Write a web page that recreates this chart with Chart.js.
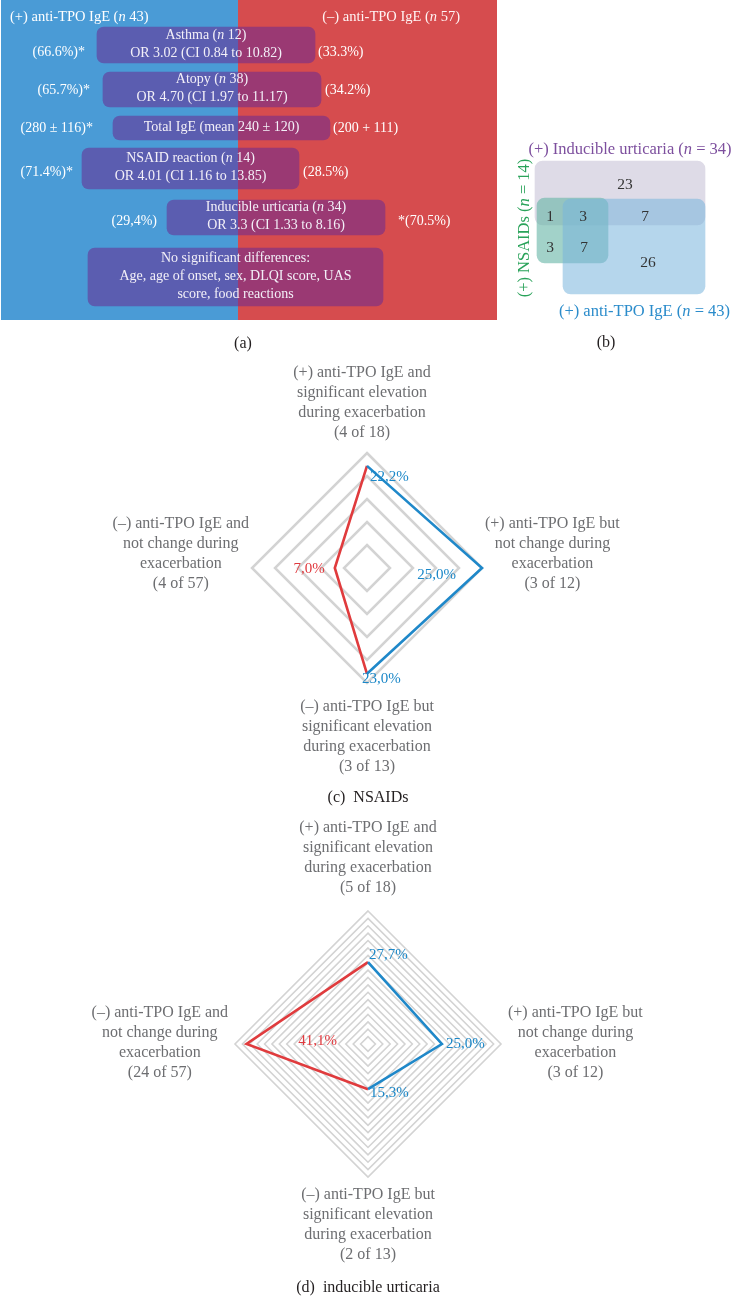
<!DOCTYPE html>
<html><head><meta charset="utf-8">
<script src="https://cdn.jsdelivr.net/npm/chart.js@4.4.0/dist/chart.umd.min.js"></script>
<style>
html,body{margin:0;padding:0;background:#fff;}
body{width:732px;height:1309px;position:relative;overflow:hidden;font-family:'Liberation Serif','DejaVu Serif',serif;}
canvas{position:absolute;}
.cap{position:absolute;font-size:16px;color:#231f20;transform:translate(-50%,-50%);white-space:nowrap;}
</style></head><body>
<canvas id="ca" width="496" height="320" style="left:1px;top:0"></canvas>
<canvas id="cb" width="242" height="190" style="left:490px;top:140px"></canvas>
<canvas id="cc" width="732" height="460" style="left:0;top:350px"></canvas>
<canvas id="cd" width="732" height="494" style="left:0;top:815px"></canvas>
<div class="cap" style="left:243px;top:343px">(a)</div>
<div class="cap" style="left:606px;top:342px">(b)</div>
<div class="cap" style="left:368px;top:797px">(c)&ensp;NSAIDs</div>
<div class="cap" style="left:368px;top:1287px">(d)&ensp;inducible urticaria</div>
<script>
// ---------------- DATA ----------------
// Panel (a)
const groupHeaders = ['(+) anti-TPO IgE (_n_ 43)', '(\u2013) anti-TPO IgE (_n_ 57)'];
const rowTitles = [
  ['Asthma (_n_ 12)', 'OR 3.02 (CI 0.84 to 10.82)'],
  ['Atopy (_n_ 38)', 'OR 4.70 (CI 1.97 to 11.17)'],
  ['Total IgE (mean 240 \u00b1 120)'],
  ['NSAID reaction (_n_ 14)', 'OR 4.01 (CI 1.16 to 13.85)'],
  ['Inducible urticaria (_n_ 34)', 'OR 3.3 (CI 1.33 to 8.16)'],
  ['No significant differences:', 'Age, age of onset, sex, DLQI score, UAS', 'score, food reactions']
];
const positiveGroup = ['(66.6%)*', '(65.7%)*', '(280 \u00b1 116)*', '(71.4%)*', '(29,4%)', ''];
const negativeGroup = ['(33.3%)', '(34.2%)', '(200 + 111)', '(28.5%)', '*(70.5%)', ''];
const boxStart = [19.35, 20.56, 22.58, 16.33, 33.47, 17.54];
const boxEnd   = [63.31, 64.52, 66.33, 60.08, 77.42, 77.02];

// Panel (b)
const vennSets = ['(+) Inducible urticaria (_n_ = 34)', '(+) NSAIDs (_n_ = 14)', '(+) anti-TPO IgE (_n_ = 43)'];
const vennCounts = [23, 1, 3, 7, 3, 7, 26];

// Panels (c) and (d)
const radarAxes = [
  ['(+) anti-TPO IgE and', 'significant elevation', 'during exacerbation'],
  ['(+) anti-TPO IgE but', 'not change during', 'exacerbation'],
  ['(\u2013) anti-TPO IgE but', 'significant elevation', 'during exacerbation'],
  ['(\u2013) anti-TPO IgE and', 'not change during', 'exacerbation']
];
const nsaidCounts = ['(4 of 18)', '(3 of 12)', '(3 of 13)', '(4 of 57)'];
const inducibleCounts = ['(5 of 18)', '(3 of 12)', '(2 of 13)', '(24 of 57)'];
const nsaidValues = [22.2, 25.0, 23.0, 7.0];
const inducibleValues = [27.7, 25.0, 15.3, 41.1];
const positiveAxes = [0, 1, 2];   // axes traced by the (+) anti-TPO IgE line
const negativeAxes = [0, 2, 3];   // axes traced by the (-) anti-TPO IgE line
const nsaidTicks = {max: 25, step: 5};
const inducibleTicks = {max: 45, step: 2.5};

// ---------------- STYLE / LAYOUT ----------------
const FONT = "'Liberation Serif','DejaVu Serif',serif";
const BLUE_BG = '#4a9bd6', RED_BG = '#d64c4e', BOX = 'rgba(106,42,145,0.55)';
const LINE_BLUE = '#1f88c9', LINE_RED = '#e03b3d', GRID = '#d3d3d3', LABEL_GRAY = '#6d6e71';

const LAYOUT_A = {
  divider: 47.78,
  rowCenter: [45, 89.5, 128, 168.5, 217.5, 277],
  rowHeight: [36, 35, 24, 41, 35, 58],
  leftGap: [12, 13, 20, 9, 10, 0],
  rightGap: [3, 4, 3, 4, 13, 0],
  sideDy: [7, 1, 0, 3.5, 3.5, 0],
  headerY: 17, headerLeft: 9, headerRight: 459, lineHeight: 18
};
const LAYOUT_B = {
  boxes: [ // [x0, x1, yCenter, height]
    [45, 215, 53, 64],
    [47, 118, 90.5, 65],
    [73, 215, 106.5, 95]
  ],
  fills: ['rgba(200,195,215,0.6)', 'rgba(100,180,165,0.6)', 'rgba(120,180,220,0.55)'],
  labelColors: ['#7d4f9e', '#2aa35a', '#2b8ccb'],
  countPos: [[135,45],[60,77],[93,77],[155,77],[60,108],[94,108],[158,123]],
  labelPos: [[140,10],[35,88],[154.5,172]]
};

// ---------------- HELPERS ----------------
function richParts(s){ return s.split('_').map((t,i)=>({t, it: i%2===1})); }
function fontFor(size, it){ return (it?'italic ':'') + size + 'px ' + FONT; }
function drawRich(ctx, s, x, y, size, align, color){
  const parts = richParts(s);
  let w = 0;
  parts.forEach(p=>{ ctx.font = fontFor(size,p.it); p.w = ctx.measureText(p.t).width; w += p.w; });
  let sx = align==='center' ? x - w/2 : (align==='right' ? x - w : x);
  ctx.fillStyle = color; ctx.textAlign = 'left'; ctx.textBaseline = 'middle';
  parts.forEach(p=>{ ctx.font = fontFor(size,p.it); ctx.fillText(p.t, sx, y); sx += p.w; });
  return w;
}
const fmtPct = v => v.toFixed(1).replace('.', ',') + '%';

// ---------------- PANEL (a) ----------------
const panelAPlugin = {
  id: 'panelA',
  beforeDatasetsDraw(chart){
    const {ctx, chartArea: a, scales: {x}} = chart;
    const d = x.getPixelForValue(LAYOUT_A.divider);
    ctx.save();
    ctx.fillStyle = BLUE_BG; ctx.fillRect(a.left, a.top, d - a.left, a.bottom - a.top);
    ctx.fillStyle = RED_BG; ctx.fillRect(d, a.top, a.right - d, a.bottom - a.top);
    ctx.restore();
  },
  afterDatasetsDraw(chart){
    const ctx = chart.ctx;
    ctx.save();
    drawRich(ctx, groupHeaders[0], LAYOUT_A.headerLeft, LAYOUT_A.headerY, 14.5, 'left', '#ffffff');
    drawRich(ctx, groupHeaders[1], LAYOUT_A.headerRight, LAYOUT_A.headerY, 14.5, 'right', '#fff4f4');
    rowTitles.forEach((lines, i) => {
      const bar = chart.getDatasetMeta(i).data[0];
      const {x, y, base} = bar.getProps(['x','y','base'], true);
      const l = Math.min(x, base), r = Math.max(x, base);
      const cx = (l + r) / 2, lh = LAYOUT_A.lineHeight;
      const y0 = y - 1 - (lines.length - 1) * lh / 2;
      lines.forEach((t, k) => drawRich(ctx, t, cx, y0 + k*lh, 14, 'center', '#f3f0f8'));
      if (positiveGroup[i]) drawRich(ctx, positiveGroup[i], l - LAYOUT_A.leftGap[i], y + LAYOUT_A.sideDy[i], 14, 'right', '#ffffff');
      if (negativeGroup[i]) drawRich(ctx, negativeGroup[i], r + LAYOUT_A.rightGap[i], y + LAYOUT_A.sideDy[i], 14, 'left', '#ffffff');
    });
    ctx.restore();
  }
};
new Chart(document.getElementById('ca'), {
  type: 'bar',
  data: {
    datasets: rowTitles.map((t, i) => ({
      label: t[0].replace(/_/g,''),
      data: [{x: [boxStart[i], boxEnd[i]], y: LAYOUT_A.rowCenter[i]}],
      barThickness: LAYOUT_A.rowHeight[i],
      backgroundColor: BOX, borderWidth: 0, borderRadius: 7, borderSkipped: false, grouped: false
    }))
  },
  options: {
    indexAxis: 'y', responsive: false, animation: false, events: [],
    layout: {padding: 0},
    plugins: {legend: {display: false}, tooltip: {enabled: false}},
    scales: {
      x: {type: 'linear', min: 0, max: 100, display: false, offset: false},
      y: {type: 'linear', min: 0, max: 320, reverse: true, display: false, offset: false}
    }
  },
  plugins: [panelAPlugin]
});

// ---------------- PANEL (b) ----------------
const panelBPlugin = {
  id: 'panelB',
  afterDatasetsDraw(chart){
    const {ctx, scales: {x, y}} = chart;
    ctx.save();
    vennCounts.forEach((c, i) => {
      const [px, py] = LAYOUT_B.countPos[i];
      drawRich(ctx, String(c), x.getPixelForValue(px), y.getPixelForValue(py), 15.5, 'center', '#333333');
    });
    const lp = LAYOUT_B.labelPos;
    drawRich(ctx, vennSets[0], x.getPixelForValue(lp[0][0]), y.getPixelForValue(lp[0][1]), 16.5, 'center', LAYOUT_B.labelColors[0]);
    drawRich(ctx, vennSets[2], x.getPixelForValue(lp[2][0]), y.getPixelForValue(lp[2][1]), 16.5, 'center', LAYOUT_B.labelColors[2]);
    ctx.save();
    ctx.translate(x.getPixelForValue(lp[1][0]), y.getPixelForValue(lp[1][1]));
    ctx.rotate(-Math.PI/2);
    drawRich(ctx, vennSets[1], 0, 0, 16.5, 'center', LAYOUT_B.labelColors[1]);
    ctx.restore();
    ctx.restore();
  }
};
new Chart(document.getElementById('cb'), {
  type: 'bar',
  data: {
    datasets: vennSets.map((s, i) => ({
      label: s.replace(/_/g,''),
      data: [{x: [LAYOUT_B.boxes[i][0], LAYOUT_B.boxes[i][1]], y: LAYOUT_B.boxes[i][2]}],
      barThickness: LAYOUT_B.boxes[i][3],
      backgroundColor: LAYOUT_B.fills[i], borderWidth: 0, borderRadius: 8, borderSkipped: false,
      grouped: false, order: 3 - i
    }))
  },
  options: {
    indexAxis: 'y', responsive: false, animation: false, events: [],
    layout: {padding: 0},
    plugins: {legend: {display: false}, tooltip: {enabled: false}},
    scales: {
      x: {type: 'linear', min: 0, max: 242, display: false, offset: false},
      y: {type: 'linear', min: 0, max: 190, reverse: true, display: false, offset: false}
    }
  },
  plugins: [panelBPlugin]
});

// ---------------- PANELS (c) and (d) ----------------
const radarTextPlugin = {
  id: 'radarText',
  afterDatasetsDraw(chart, args, o){
    const ctx = chart.ctx, r = chart.scales.r;
    ctx.save();
    ctx.textBaseline = 'middle';
    ctx.font = fontFor(16, false);
    chart.data.labels.forEach((lines, i) => {
      const p = r.getPointPosition(i, r.drawingArea);
      const lh = 20, n = lines.length;
      const w = Math.max(...lines.map(l => ctx.measureText(l).width));
      let cx, y0;
      if (i === 0) { cx = p.x + o.topDx; y0 = p.y - o.topGap - (n-1)*lh; }
      else if (i === 2) { cx = p.x; y0 = p.y + o.bottomGap; }
      else if (i === 1) { cx = p.x + o.sideGap + w/2; y0 = p.y + o.sideDy - (n-1)*lh/2; }
      else { cx = p.x - o.sideGap - w/2; y0 = p.y + o.sideDy - (n-1)*lh/2; }
      ctx.fillStyle = LABEL_GRAY; ctx.textAlign = 'center';
      lines.forEach((l, k) => ctx.fillText(l, cx, y0 + k*lh));
    });
    o.values.forEach((v, i) => {
      const p = r.getPointPositionForValue(i, v);
      const [dx, dy, align] = o.valueOffsets[i];
      ctx.font = fontFor(15, false);
      ctx.textAlign = align;
      ctx.fillStyle = positiveAxes.includes(i) ? '#1a87c8' : '#e0393e';
      ctx.fillText(fmtPct(v), p.x + dx, p.y + dy);
    });
    ctx.restore();
  }
};

function radarChart(id, values, counts, ticks, lay){
  const labels = radarAxes.map((lines, i) => [...lines, counts[i]]);
  const pos = values.map((v, i) => positiveAxes.includes(i) ? v : null);
  const neg = values.map((v, i) => negativeAxes.includes(i) ? v : null);
  return new Chart(document.getElementById(id), {
    type: 'radar',
    data: {
      labels,
      datasets: [
        {label: '(+) anti-TPO IgE', data: pos, borderColor: LINE_BLUE, borderWidth: 2.6, fill: false, pointRadius: 0, spanGaps: false, tension: 0},
        {label: '(\u2013) anti-TPO IgE', data: neg, borderColor: LINE_RED, borderWidth: 2.6, fill: false, pointRadius: 0, spanGaps: false, tension: 0}
      ]
    },
    options: {
      responsive: false, animation: false, events: [],
      layout: {padding: lay.padding},
      plugins: {legend: {display: false}, tooltip: {enabled: false}, radarText: Object.assign({values}, lay.text)},
      scales: {
        r: {
          min: 0, max: ticks.max,
          ticks: {display: false, stepSize: ticks.step},
          grid: {color: GRID, lineWidth: lay.gridWidth, circular: false},
          angleLines: {display: false},
          pointLabels: {display: false}
        }
      }
    },
    plugins: [radarTextPlugin]
  });
}

radarChart('cc', nsaidValues, nsaidCounts, nsaidTicks, {
  padding: {left: 252, right: 250, top: 103, bottom: 127},
  gridWidth: 2.5,
  text: {topDx: -5, topGap: 20, bottomGap: 24, sideGap: 3, sideDy: -14,
         valueOffsets: [[3, 11, 'left'], [-26, 7, 'right'], [-5, 5, 'left'], [-10, 1, 'right']]}
});
radarChart('cd', inducibleValues, inducibleCounts, inducibleTicks, {
  padding: {left: 235, right: 231, top: 96, bottom: 132},
  gridWidth: 1.6,
  text: {topDx: 0, topGap: 23, bottomGap: 18, sideGap: 7, sideDy: -1.5,
         valueOffsets: [[1, -7, 'left'], [4, 0, 'left'], [2, 4, 'left'], [71, -3, 'center']]}
});
</script>
</body></html>
